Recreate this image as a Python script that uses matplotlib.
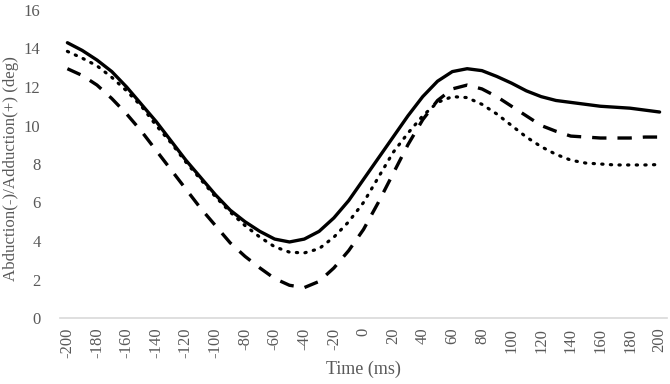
import numpy as np
import matplotlib.pyplot as plt

# time axis (ms), one point every 10 ms
time_ms = np.arange(-200, 201, 10)

# (deg)
solid = [14.3, 13.9, 13.4, 12.8, 12.0, 11.1, 10.2, 9.2, 8.2, 7.3, 6.4,
         5.6, 5.0, 4.5, 4.1, 3.95, 4.1, 4.5, 5.2, 6.1, 7.2,
         8.3, 9.4, 10.5, 11.5, 12.3, 12.8, 12.95, 12.85, 12.55, 12.2,
         11.8, 11.5, 11.3, 11.2, 11.1, 11.0, 10.95, 10.9, 10.8, 10.7]
dotted = [13.85, 13.5, 13.1, 12.5, 11.8, 11.0, 10.0, 9.1, 8.1, 7.2, 6.3,
          5.5, 4.8, 4.2, 3.7, 3.42, 3.38, 3.6, 4.2, 5.0, 6.0,
          7.3, 8.6, 9.6, 10.5, 11.2, 11.5, 11.45, 11.1, 10.6, 10.0,
          9.4, 8.9, 8.5, 8.2, 8.05, 8.0, 7.95, 7.95, 7.95, 7.97]
dashed = [12.95, 12.6, 12.1, 11.4, 10.6, 9.7, 8.7, 7.7, 6.7, 5.7, 4.8,
          3.9, 3.2, 2.6, 2.05, 1.7, 1.58, 1.9, 2.6, 3.5, 4.6,
          6.0, 7.5, 9.0, 10.3, 11.3, 11.9, 12.1, 11.9, 11.5, 11.0,
          10.5, 10.0, 9.7, 9.45, 9.4, 9.35, 9.35, 9.35, 9.4, 9.4]

xticks = np.arange(-200, 201, 20)
yticks = np.arange(0, 17, 2)

gray = '#595959'
plt.rcParams['font.family'] = ['Liberation Serif', 'DejaVu Serif']
plt.rcParams['axes.unicode_minus'] = False

fig = plt.figure(figsize=(6.7, 3.84), dpi=100)
ax = fig.add_axes([60/670, 66/384, 607/670, 308/384])

ax.plot(time_ms, solid, color='black', lw=2.4, solid_joinstyle='round',
        solid_capstyle='round')
ax.plot(time_ms, dotted, color='black', lw=2.3, linestyle=(0, (0.4, 2.3)),
        dash_capstyle='round')
ax.plot(time_ms, dashed, color='black', lw=2.4, linestyle=(0, (4.3, 3.3)))

ax.set_xlim(-205, 205)
ax.set_ylim(0, 16)
ax.set_xticks(xticks)
ax.set_yticks(yticks)
ax.tick_params(axis='both', length=0, labelsize=12, labelcolor=gray)
ax.tick_params(axis='y', pad=14)
ax.tick_params(axis='x', pad=7, labelrotation=90)

for side in ['top', 'right', 'left']:
    ax.spines[side].set_visible(False)
ax.spines['bottom'].set_color('#d9d9d9')
ax.spines['bottom'].set_linewidth(1.2)

ax.set_xlabel('Time (ms)', fontsize=13, color=gray, labelpad=2)
ax.set_ylabel('Abduction(-)/Adduction(+) (deg)', fontsize=12.2, color=gray)
ax.yaxis.set_label_coords(-0.067, 0.484)

fig.savefig('out.png', dpi=100)
